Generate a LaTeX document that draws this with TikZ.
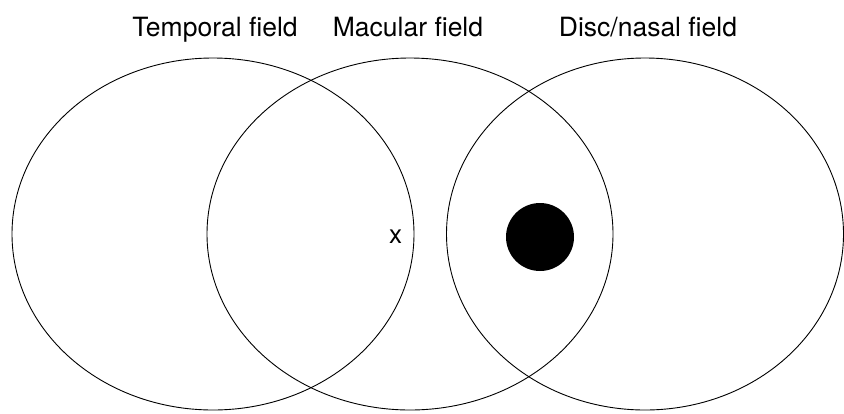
\documentclass[tikz,border=0pt]{standalone}
\usepackage{fontspec}
\setmainfont{TeX Gyre Heros}
\begin{document}
\begin{tikzpicture}[x=1pt,y=-1pt,
  field/.style={draw=black,line width=0.9pt},
  title/.style={font=\fontsize{26.5}{30}\selectfont,anchor=base,inner sep=0pt}]
\useasboundingbox (0,0) rectangle (844,413);
\draw[field] (213,234) ellipse [x radius=201,y radius=176];
\draw[field] (410,234) ellipse [x radius=203,y radius=176];
\draw[field] (645,234) ellipse [x radius=198.5,y radius=176];
\node[title] (t1) at (215,36) {Temporal field};
\node[title] (t2) at (408,36) {Macular field};
\node[title] (t3) at (648,36) {Disc/nasal field};
\node[font=\fontsize{26}{30}\selectfont,inner sep=0pt,anchor=base] (x) at (395.5,243) {x};
\fill (540,237) circle [radius=34];
\end{tikzpicture}
\end{document}
